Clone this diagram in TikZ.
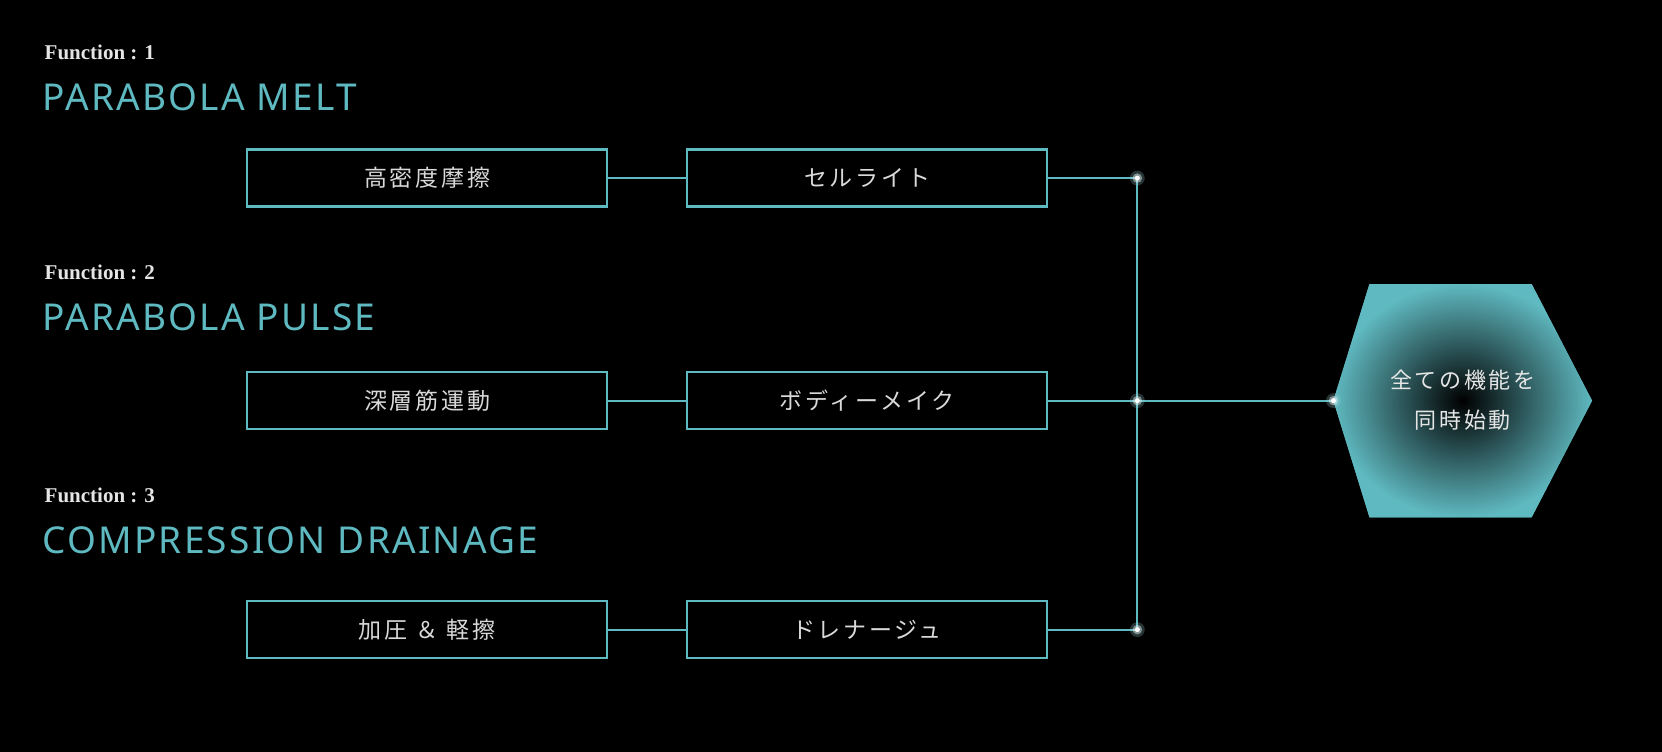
\documentclass[tikz,border=0pt]{standalone}
\usepackage{fontspec}
\setmainfont{Noto Sans}
\newfontfamily\cjk[LetterSpace=12]{Noto Sans CJK JP}
\newfontfamily\fnser{Liberation Serif}
\newfontfamily\hd[LetterSpace=6]{Noto Sans}
\usetikzlibrary{shapes.geometric}
\definecolor{teal1}{HTML}{5FB9C0}
\begin{document}
\begin{tikzpicture}[x=1.06pt,y=-1.06pt,
  box/.style={draw=teal1,line width=2.2pt,minimum width=360pt,minimum height=57pt,inner sep=0pt,text=white!85!black,font=\cjk\fontsize{23}{26}\selectfont},
  fn/.style={anchor=base west,text=white!90!black,font=\fnser\bfseries\fontsize{21}{24}\selectfont,inner sep=0pt},
  hd/.style={anchor=base west,text=teal1,font=\hd\fontsize{37}{40}\selectfont,inner sep=0pt},
  ln/.style={draw=teal1,line width=2pt},
  glow/.style={circle,inner sep=0pt,minimum size=5pt,fill=white}]
\fill[black] (0,0) rectangle (1568,709);
\useasboundingbox (0,0) rectangle (1568,709);
\node[fn] (f1) at (42,56) {Function : 1};
\node[hd] (h1) at (40,104) {PARABOLA MELT};
\node[fn] (f2) at (42,264) {Function : 2};
\node[hd] (h2) at (40,312) {PARABOLA PULSE};
\node[fn] (f3) at (42,474) {Function : 3};
\node[hd] (h3) at (40,522) {COMPRESSION DRAINAGE};
\node[box] (a1) at (403,168) {高密度摩擦};
\node[box] (b1) at (818,168) {セルライト};
\node[box] (a2) at (403,378) {深層筋運動};
\node[box] (b2) at (818,378) {ボディーメイク};
\node[box] (a3) at (403,594) {加圧 ＆ 軽擦};
\node[box] (b3) at (818,594) {ドレナージュ};
\coordinate (j1) at (1073,168);
\coordinate (j2) at (1073,378);
\coordinate (j3) at (1073,594);
\path[fill=teal1,inner color=black,outer color=teal1] (1258,378) -- (1292,268) -- (1445,268) -- (1502,378) -- (1445,488) -- (1292,488) -- cycle;
\node[inner sep=0pt,align=center,text=white!90!black,font=\cjk\fontsize{22}{40}\selectfont] (hx) at (1380,378) {全ての機能を\\同時始動};
\coordinate (hl) at (1258,378);
\draw[ln] (a1) -- (b1); \draw[ln] (b1) -- (j1);
\draw[ln] (a2) -- (b2); \draw[ln] (b2) -- (j2);
\draw[ln] (a3) -- (b3); \draw[ln] (b3) -- (j3);
\draw[ln] (j1) -- (j3);
\draw[ln] (j2) -- (hl);
\foreach \p in {j1,j2,j3,hl}{
  \fill[teal1!60!white,opacity=0.25] (\p) circle (7);
  \fill[white!80!teal1,opacity=0.5] (\p) circle (4.5);
  \node[glow] at (\p) {};
}
\end{tikzpicture}
\end{document}
